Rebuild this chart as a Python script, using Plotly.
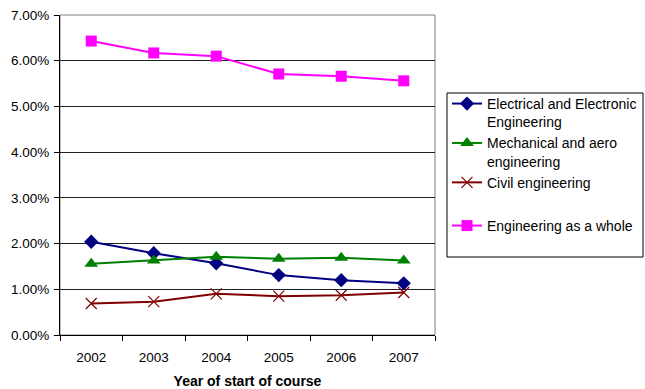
import plotly.graph_objects as go

years = ["2002", "2003", "2004", "2005", "2006", "2007"]
electrical = [0.0204, 0.0179, 0.0157, 0.0131, 0.0120, 0.0113]
mechanical = [0.0156, 0.0163, 0.0171, 0.0167, 0.0169, 0.0163]
civil = [0.0069, 0.0073, 0.0090, 0.0085, 0.0087, 0.0093]
whole = [0.0643, 0.0617, 0.0610, 0.0571, 0.0566, 0.0556]

names = ["Electrical and Electronic<br>Engineering",
         "Mechanical and aero<br>engineering",
         "Civil engineering",
         "Engineering as a whole"]

FONT = "Liberation Sans, Arial, sans-serif"

fig = go.Figure()
fig.add_trace(go.Scatter(x=years, y=electrical, name=names[0], mode="lines+markers",
                         line=dict(color="#000080", width=2),
                         marker=dict(symbol="diamond", size=11, color="#000080"),
                         legendgroup="a"))
fig.add_trace(go.Scatter(x=years, y=mechanical, name=names[1], mode="lines+markers",
                         line=dict(color="#008000", width=2),
                         marker=dict(symbol="triangle-up", size=12, color="#008000"),
                         legendgroup="a"))
fig.add_trace(go.Scatter(x=years, y=civil, name=names[2], mode="lines+markers",
                         line=dict(color="#800000", width=2),
                         marker=dict(symbol="x-thin", size=11, color="#800000",
                                     line=dict(color="#800000", width=1.2)),
                         legendgroup="a"))
fig.add_trace(go.Scatter(x=years, y=whole, name=names[3], mode="lines+markers",
                         line=dict(color="#FF00FF", width=2),
                         marker=dict(symbol="square", size=11, color="#FF00FF"),
                         legendgroup="b"))

# plot area in window pixels: x 60..435, y 15..335
fig.update_layout(
    width=645, height=389,
    margin=dict(l=60, r=210, t=15, b=54, autoexpand=False),
    paper_bgcolor="white", plot_bgcolor="white",
    font=dict(family=FONT, size=13.5, color="black"),
    legend=dict(x=1.032, y=0.772, xanchor="left", yanchor="top",
                bgcolor="rgba(0,0,0,0)", borderwidth=0,
                font=dict(family=FONT, size=14, color="black"),
                valign="top", traceorder="grouped", tracegroupgap=22),
    shapes=[dict(type="rect", xref="paper", yref="paper", x0=0, x1=1, y0=0, y1=1,
                 line=dict(color="#808080", width=1), layer="below"),
            dict(type="rect", xref="paper", yref="paper", x0=1.032, x1=1.5547,
                 y0=0.24375, y1=0.75625, line=dict(color="black", width=1),
                 fillcolor="white", layer="below")],
)
fig.update_xaxes(type="category", range=[-0.5, 5.5], tickson="boundaries",
                 ticks="outside", ticklen=5, tickcolor="black", ticklabelstandoff=10,
                 showline=True, linecolor="black", linewidth=1, showgrid=False,
                 title=dict(text="<b>Year of start of course</b>", standoff=12,
                            font=dict(family=FONT, size=14, color="black")))
fig.update_yaxes(range=[0, 0.07], dtick=0.01, tickformat=".2%",
                 ticks="outside", ticklen=5, tickcolor="black", ticklabelstandoff=2,
                 showline=True, linecolor="black", linewidth=1,
                 showgrid=True, gridcolor="#202020", gridwidth=1, zeroline=False)

fig.write_html("out.html", config={"displayModeBar": False},
               post_script="document.body.style.margin='0';")
